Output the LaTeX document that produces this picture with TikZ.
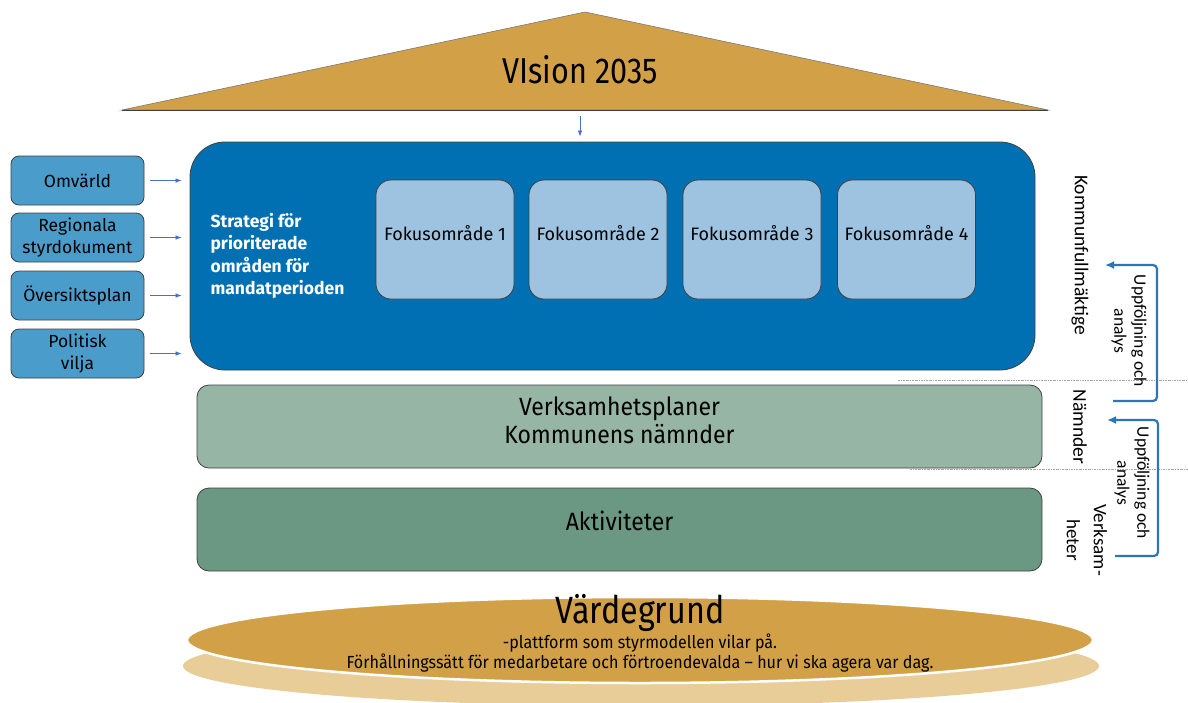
\documentclass[tikz,border=0pt]{standalone}
\usepackage{fontspec}
\setmainfont{Fira Sans}
\newfontfamily\condf[FakeStretch=0.85]{Fira Sans}
\newfontfamily\condg[FakeStretch=0.92]{Fira Sans}
\newfontfamily\calf{Carlito}
\usetikzlibrary{arrows.meta}
\definecolor{gold}{HTML}{D2A147}
\definecolor{goldshadow}{HTML}{E9CD98}
\definecolor{mainblue}{HTML}{0070B2}
\definecolor{fokusblue}{HTML}{9DC3E0}
\definecolor{sideblue}{HTML}{4A9DCB}
\definecolor{greenlight}{HTML}{96B5A5}
\definecolor{greendark}{HTML}{6A9882}
\definecolor{arrblue}{HTML}{4472C4}
\definecolor{brkblue}{HTML}{2E75B6}
\definecolor{edge}{HTML}{404040}
\begin{document}
\begin{tikzpicture}[x=1pt,y=-1pt,
  sidebox/.style={draw=edge, line width=0.8pt, fill=sideblue, rounded corners=8pt,
    minimum width=133pt, minimum height=49pt, align=center, inner sep=0pt,
    font=\fontsize{17.5}{22}\selectfont},
  fokusbox/.style={draw=edge, line width=0.8pt, fill=fokusblue, rounded corners=15pt,
    minimum width=138pt, minimum height=119pt, inner sep=0pt,
    font=\fontsize{18}{21}\selectfont},
  layerbox/.style={draw=edge, line width=0.8pt, rounded corners=12pt,
    minimum width=845pt, minimum height=83pt, align=center, inner sep=0pt},
  layertext/.style={align=center, inner sep=0pt, font=\condg\fontsize{25}{28}\selectfont},
  thinarr/.style={draw=arrblue, line width=0.7pt, -{Latex[length=6pt,width=4.5pt]}},
  brk/.style={draw=brkblue, line width=2.2pt, rounded corners=4pt, -{Latex[length=9pt,width=8pt]}},
  dotline/.style={draw=gray!70, line width=0.7pt, dash pattern=on 2pt off 1pt on 0.6pt off 1pt},
  sidetext/.style={rotate=-90, align=center, inner sep=0pt},
]
\useasboundingbox (0,0) rectangle (1188,702);

% Vision triangle
\filldraw[fill=gold, draw=edge!70, line width=0.6pt] (585,12) -- (1048,110) -- (122,110) -- cycle;
\draw[edge, line width=1pt] (122,110) -- (1048,110);
\node (vision) at (580,70) {\condf\fontsize{36}{40}\selectfont VIsion 2035};
\coordinate (visbase) at (580,116);

% Strategy box
\node[draw=edge, line width=0.8pt, fill=mainblue, rounded corners=35pt,
  minimum width=845pt, minimum height=228pt, inner sep=0pt] (strat) at (612.5,256) {};
\draw[thinarr] (visbase) -- ([yshift=5pt]strat.north -| visbase);
\node[anchor=west, align=left, text=white, font=\bfseries\fontsize{17.5}{22.5}\selectfont]
  (strattext) at (207,256) {Strategi för\\prioriterade\\områden för\\mandatperioden};

\node[fokusbox] (f1) at (445,239.5) {\raisebox{13pt}{Fokusområde 1}};
\node[fokusbox] (f2) at (598,239.5) {\raisebox{13pt}{Fokusområde 2}};
\node[fokusbox] (f3) at (752,239.5) {\raisebox{13pt}{Fokusområde 3}};
\node[fokusbox] (f4) at (906.5,239.5) {\raisebox{13pt}{Fokusområde 4}};

% Side boxes
\node[sidebox] (omv) at (77.5,180.5) {Omvärld};
\node[sidebox] (reg) at (77.5,237.5) {Regionala\\styrdokument};
\node[sidebox] (ovs) at (77.5,295.5) {Översiktsplan};
\node[sidebox] (pol) at (77.5,353.5) {Politisk\\vilja};
\draw[thinarr] ([xshift=6pt]omv.east) -- ([xshift=-8pt]omv.east -| strat.west);
\draw[thinarr] ([xshift=6pt]reg.east) -- ([xshift=-8pt]reg.east -| strat.west);
\draw[thinarr] ([xshift=6pt]ovs.east) -- ([xshift=-8pt]ovs.east -| strat.west);
\draw[thinarr] ([xshift=6pt]pol.east) -- ([xshift=-8pt]pol.east -| strat.west);

% Layers
\node[layerbox, fill=greenlight] (verk) at (619.5,426.5) {};
\node[layertext] (verktext) at (619.5,420) {Verksamhetsplaner\\Kommunens nämnder};
\node[layerbox, fill=greendark] (akt) at (619.5,529.5) {};
\node[layertext] (akttext) at (619.5,521) {Aktiviteter};

% Dotted separators
\coordinate (d1a) at (898,380); \coordinate (d1b) at (1188,380);
\coordinate (d2a) at (910,469); \coordinate (d2b) at (1188,469);
\draw[dotline] (d1a) -- (d1b);
\draw[dotline] (d2a) -- (d2b);

% Right side labels
\node[sidetext, font=\calf\fontsize{19.5}{24}\selectfont] (kf) at (1080,255) {Kommunfullmäktige};
\node[sidetext, font=\calf\fontsize{19.5}{24}\selectfont] (nam) at (1080,427) {Nämnder};
\node[sidetext, font=\calf\fontsize{19}{27}\selectfont] (vh) at (1087,540) {Verksam-\\heter};

% Follow-up brackets
\coordinate (b1s) at (1113,401); \coordinate (b1c1) at (1157,401);
\coordinate (b1c2) at (1157,265); \coordinate (b1e) at (1105,265);
\draw[brk] (b1s) -- (b1c1) -- (b1c2) -- (b1e);
\node[sidetext, font=\calf\fontsize{17.5}{20}\selectfont] (u1) at (1129,331) {Uppföljning och\\analys};
\coordinate (b2s) at (1115,556); \coordinate (b2c1) at (1158,556);
\coordinate (b2c2) at (1158,420); \coordinate (b2e) at (1107,420);
\draw[brk] (b2s) -- (b2c1) -- (b2c2) -- (b2e);
\node[sidetext, font=\calf\fontsize{17.5}{20}\selectfont] (u2) at (1132,483) {Uppföljning och\\analys};

% Värdegrund ellipses
\fill[goldshadow] (641,666) ellipse [x radius=458pt, y radius=40pt];
\filldraw[fill=gold, draw=white, line width=2.5pt] (640,640) ellipse [x radius=453pt, y radius=43pt];
\node (vg) at (640,613) {\condf\fontsize{38}{40}\selectfont Värdegrund};
\node[align=center, font=\condg\fontsize{17.5}{20}\selectfont] (vgtext) at (640,653)
  {-plattform som styrmodellen vilar på.\\Förhållningssätt för medarbetare och förtroendevalda – hur vi ska agera var dag.};
\end{tikzpicture}
\end{document}
